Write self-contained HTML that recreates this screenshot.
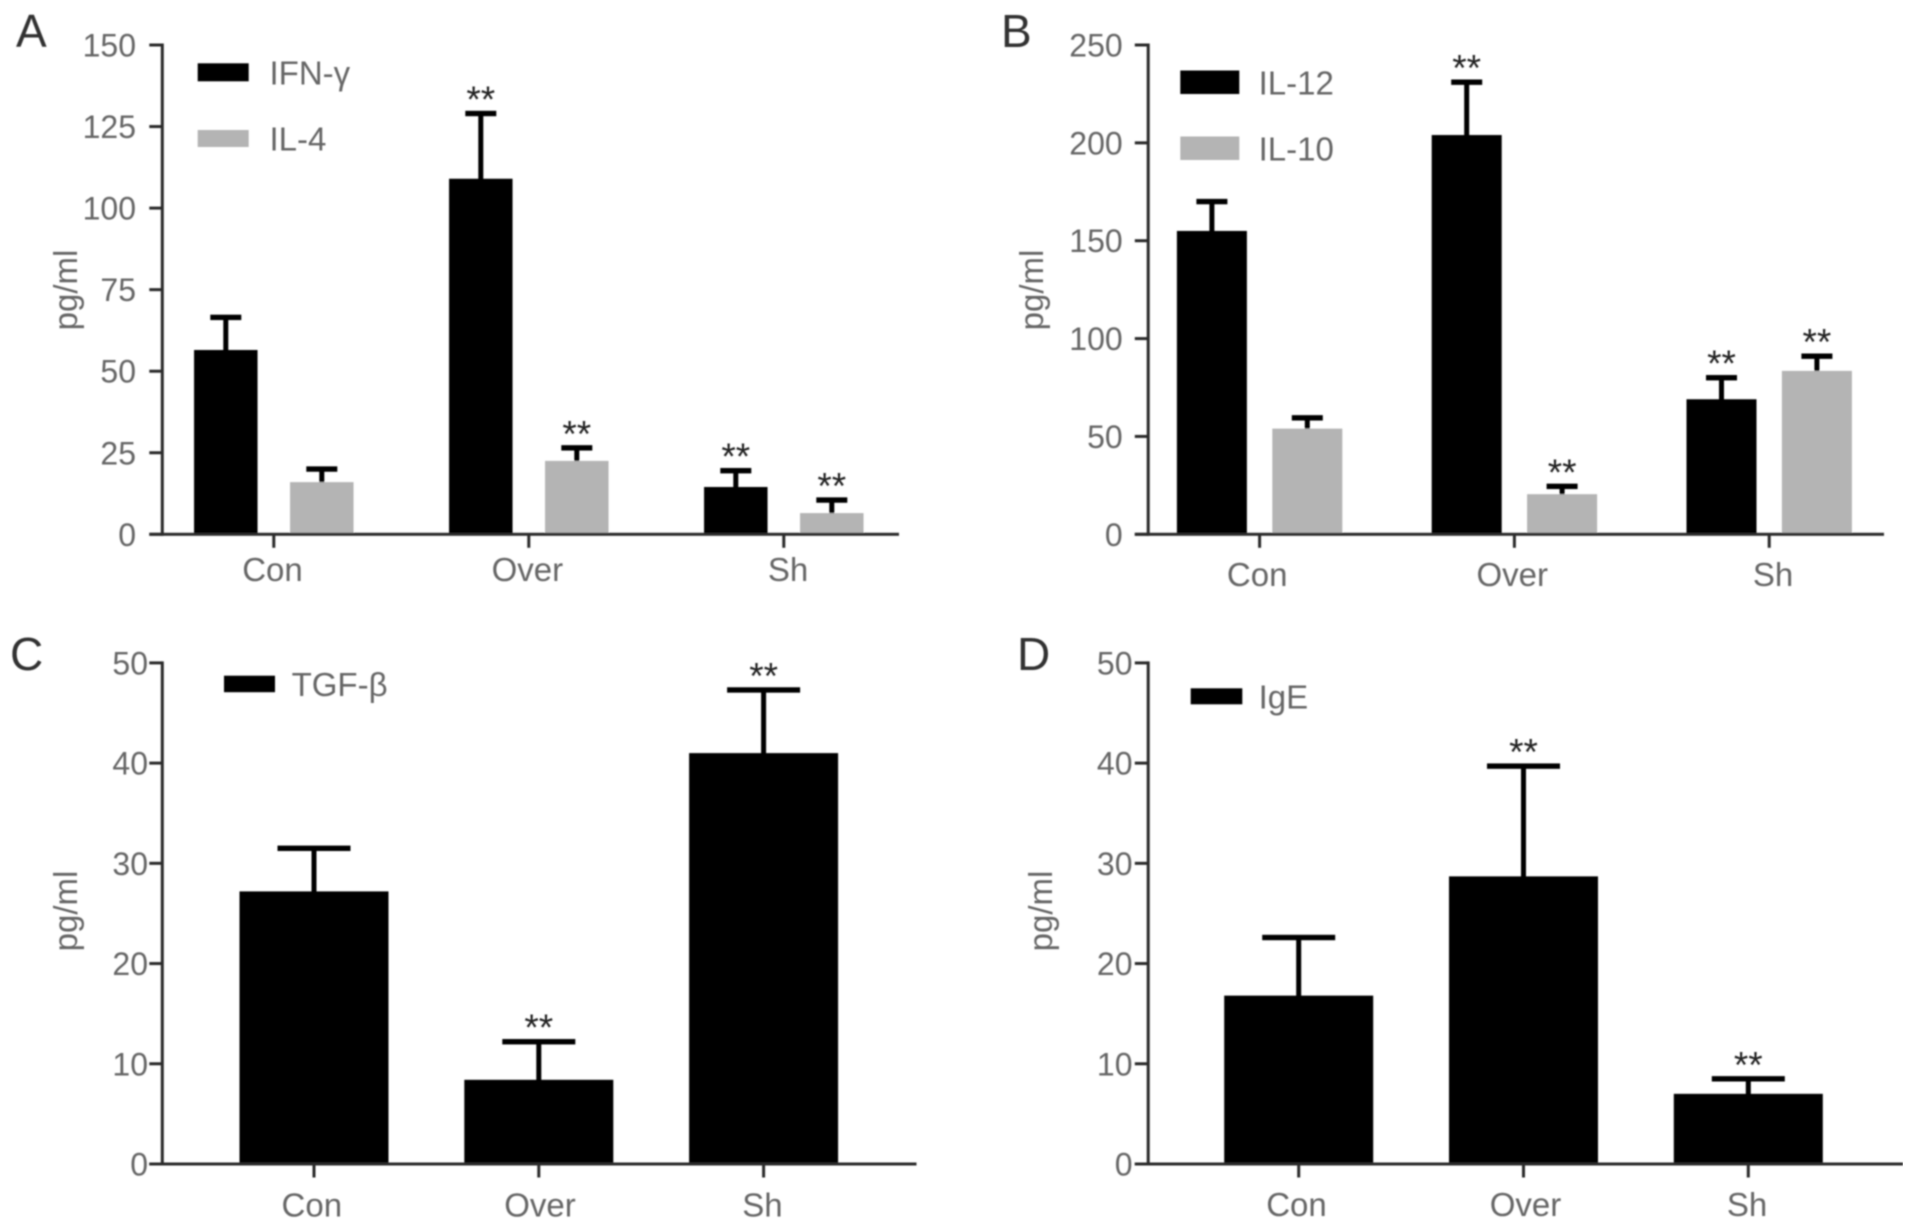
<!DOCTYPE html>
<html lang="en">
<head>
<meta charset="utf-8">
<title>Cytokine levels by group</title>
<style>
  html, body { margin: 0; padding: 0; background: #fff; width: 1913px; height: 1230px; overflow: hidden; }
  svg { display: block; }
  text { font-family: "Liberation Sans", sans-serif; }
</style>
</head>
<body>
<svg id="figure" xmlns="http://www.w3.org/2000/svg" width="1913" height="1230" viewBox="0 0 1913 1230">
  <defs><filter id="soft" x="0" y="0" width="100%" height="100%"><feGaussianBlur stdDeviation="0.7"/></filter></defs>
  <rect width="1913" height="1230" fill="#fff"/>
  <g id="root" filter="url(#soft)"></g>
</svg>
<script>
// ---- Chart data ----
const categories = ['Con', 'Over', 'Sh'];

const aTickLabels = [0, 25, 50, 75, 100, 125, 150];
const aIfnValues = [56.5, 109, 14.5];
const aIfnErrors = [10, 20, 5];
const aIfnStars = [0, 1, 1];
const aIl4Values = [16, 22.5, 6.5];
const aIl4Errors = [4, 4, 4];
const aIl4Stars = [0, 1, 1];

const bTickLabels = [0, 50, 100, 150, 200, 250];
const bIl12Values = [155, 204, 69];
const bIl12Errors = [15, 27, 11];
const bIl12Stars = [0, 1, 1];
const bIl10Values = [54, 20.5, 83.5];
const bIl10Errors = [5.5, 4, 7.5];
const bIl10Stars = [0, 1, 1];

const cTickLabels = [0, 10, 20, 30, 40, 50];
const cTgfValues = [27.2, 8.4, 41];
const cTgfErrors = [4.3, 3.8, 6.3];
const cTgfStars = [0, 1, 1];

const dTickLabels = [0, 10, 20, 30, 40, 50];
const dIgeValues = [16.8, 28.7, 7];
const dIgeErrors = [5.8, 11, 1.5];
const dIgeStars = [0, 1, 1];

// ---- Drawing ----
const NS = 'http://www.w3.org/2000/svg';
const root = document.getElementById('root');
const AXIS = '#2b2b2b', LABEL = '#666666', GREY = '#b4b4b4';

function mk(parent, tag, attrs, txt) {
  const el = document.createElementNS(NS, tag);
  for (const k in attrs) el.setAttribute(k, attrs[k]);
  if (txt !== undefined) el.textContent = txt;
  parent.appendChild(el);
  return el;
}

function drawPanel(p) {
  const g = mk(root, 'g', {});
  
  

  const maxTick = p.ticks[p.ticks.length - 1];
  const y = v => p.y0 - (v / maxTick) * (p.y0 - p.yTop);
  const x = i => p.xStart + i * p.xStep;

  const letter = mk(g, 'text', { x: p.letterX, y: p.letterY, 'font-size': 46, fill: '#333' }, p.letter);
  
  

  const title = mk(g, 'text', { transform: 'translate(' + p.titleX + ',' + p.titleY + ') rotate(-90)', 'text-anchor': 'middle', 'font-size': 33, fill: LABEL }, 'pg/ml');
  
  

  // bars and error bars
  const n = p.series.length;
  p.series.forEach((s, si) => {
    const off = n === 1 ? 0 : (si === 0 ? -p.barOffset : p.barOffset);
    s.values.forEach((v, i) => {
      const cx = x(i) + off;
      const top = v + s.errors[i];
      const stem = mk(g, 'rect', { x: cx - 2.5, y: y(top), width: 5, height: y(v) - y(top) + 2, fill: '#000' });
      
      
      const cap = mk(g, 'rect', { x: cx - p.capW / 2, y: y(top) - 2.7, width: p.capW, height: 5.4, fill: '#000' });
      
      
      const bar = mk(g, 'rect', { x: cx - p.barW / 2, y: y(v), width: p.barW, height: p.y0 - y(v), fill: s.color });
      
      
      if (s.stars[i]) {
        const star = mk(g, 'text', { x: cx, y: y(top) - 1.5, 'text-anchor': 'middle', 'font-size': 37, fill: '#222' }, '**');
        
        
      }
    });
  });

  // axes
  const yAxis = mk(g, 'rect', { x: p.axisX - 1.5, y: p.yTop - 1.5, width: 3, height: p.y0 - p.yTop + 3, fill: AXIS });
  
  
  const xAxis = mk(g, 'rect', { x: p.xLeft, y: p.y0 - 1.5, width: p.xRight - p.xLeft, height: 3, fill: AXIS });
  
  

  p.ticks.forEach(t => {
    const tick = mk(g, 'rect', { x: p.xLeft, y: y(t) - 1.5, width: p.axisX - p.xLeft, height: 3, fill: AXIS });
    
    
    const lab = mk(g, 'text', { x: p.labelRight, y: y(t) + 11.5, 'text-anchor': 'end', 'font-size': 32, fill: LABEL }, String(t));
    
    
  });

  categories.forEach((c, i) => {
    const tick = mk(g, 'rect', { x: x(i) - 1.5, y: p.y0, width: 3, height: 13.5, fill: AXIS });
    
    
    const lab = mk(g, 'text', { x: p.catX[i], y: p.catY, 'text-anchor': 'middle', 'font-size': 33, fill: LABEL }, c);
    
    
  });

  // legend
  p.series.forEach((s, si) => {
    const l = p.legend[si];
    const sw = mk(g, 'rect', { x: p.legendX, y: l.y, width: p.legendW, height: l.h, fill: s.color });
    
    
    const tx = mk(g, 'text', { x: p.legendTextX, y: l.y + l.h / 2 + 12, 'font-size': 33, fill: LABEL }, s.name);
    
    
  });
}

drawPanel({
  letter: 'A', letterX: 16, letterY: 47, titleX: 77, titleY: 290,
  ticks: aTickLabels, y0: 534.3, yTop: 45, axisX: 162.3, xLeft: 149.3, xRight: 899, labelRight: 136,
  xStart: 273.8, xStep: 255, barW: 63.5, barOffset: 48, capW: 31,
  catX: [272.5, 527.4, 788], catY: 581,
  legendX: 197.7, legendW: 51, legendTextX: 269.5,
  legend: [{ y: 63.3, h: 18 }, { y: 130, h: 17 }],
  series: [
    { name: 'IFN-γ', color: '#000', values: aIfnValues, errors: aIfnErrors, stars: aIfnStars },
    { name: 'IL-4', color: GREY, values: aIl4Values, errors: aIl4Errors, stars: aIl4Stars }
  ]
});

drawPanel({
  letter: 'B', letterX: 1001, letterY: 47, titleX: 1043, titleY: 290,
  ticks: bTickLabels, y0: 534.3, yTop: 45, axisX: 1148.2, xLeft: 1134.8, xRight: 1884, labelRight: 1122.7,
  xStart: 1259.6, xStep: 254.8, barW: 70, barOffset: 47.7, capW: 31,
  catX: [1257.2, 1512.2, 1773], catY: 586,
  legendX: 1180.3, legendW: 59, legendTextX: 1258.6,
  legend: [{ y: 70.5, h: 23.5 }, { y: 136.5, h: 23.5 }],
  series: [
    { name: 'IL-12', color: '#000', values: bIl12Values, errors: bIl12Errors, stars: bIl12Stars },
    { name: 'IL-10', color: GREY, values: bIl10Values, errors: bIl10Errors, stars: bIl10Stars }
  ]
});

drawPanel({
  letter: 'C', letterX: 10, letterY: 670, titleX: 77, titleY: 911,
  ticks: cTickLabels, y0: 1164, yTop: 662.9, axisX: 162.3, xLeft: 149.3, xRight: 916.5, labelRight: 148,
  xStart: 314, xStep: 224.8, barW: 149, barOffset: 0, capW: 73,
  catX: [311.8, 540, 762.4], catY: 1216.7,
  legendX: 224, legendW: 51, legendTextX: 291.6,
  legend: [{ y: 675.7, h: 16.5 }],
  series: [
    { name: 'TGF-β', color: '#000', values: cTgfValues, errors: cTgfErrors, stars: cTgfStars }
  ]
});

drawPanel({
  letter: 'D', letterX: 1017, letterY: 670, titleX: 1052, titleY: 911,
  ticks: dTickLabels, y0: 1164, yTop: 662.9, axisX: 1148.2, xLeft: 1134.8, xRight: 1903, labelRight: 1132.5,
  xStart: 1298.7, xStep: 224.8, barW: 149, barOffset: 0, capW: 73,
  catX: [1296.5, 1525.5, 1747], catY: 1216,
  legendX: 1190.7, legendW: 51.6, legendTextX: 1258.6,
  legend: [{ y: 688.3, h: 16 }],
  series: [
    { name: 'IgE', color: '#000', values: dIgeValues, errors: dIgeErrors, stars: dIgeStars }
  ]
});
</script>
</body>
</html>
